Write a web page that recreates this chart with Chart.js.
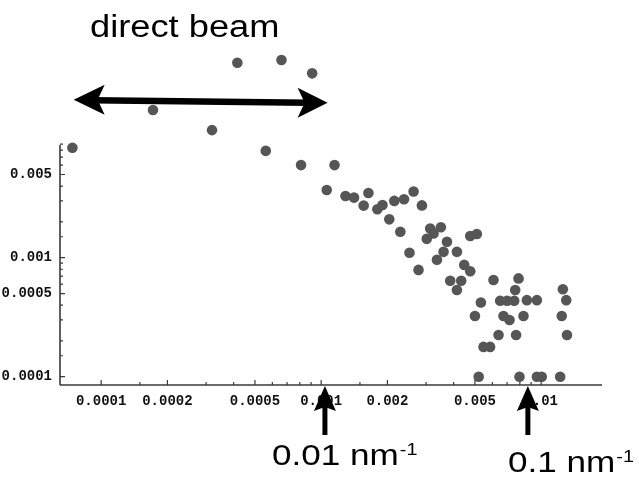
<!DOCTYPE html>
<html>
<head>
<meta charset="utf-8">
<script src="https://cdn.jsdelivr.net/npm/chart.js@4.4.0/dist/chart.umd.min.js"></script>
<style>
  body { margin: 0; background: #fff; }
  #caixa { width: 639px; height: 477px; }
</style>
</head>
<body>
<div id="caixa"><canvas id="graficoEspalhamento" width="639" height="477"></canvas></div>
<script>
// q (vetor de espalhamento) e intensidade de cada ponto medido
const qX = [
  0.000074, 0.000172, 0.000319, 0.000416, 0.00056, 0.00066, 0.00091, 0.00081, 0.00115,
  0.00106, 0.00129, 0.00141, 0.00164, 0.00156, 0.0018, 0.0019, 0.00215, 0.00238, 0.00263,
  0.00287, 0.00204, 0.00229, 0.00313, 0.0035, 0.00302, 0.00324, 0.00252, 0.00373, 0.0036,
  0.00414, 0.00336, 0.00476, 0.0051, 0.00277, 0.00447, 0.00476, 0.00386, 0.00433, 0.00414,
  0.00607, 0.00789, 0.00762, 0.01255, 0.013, 0.00532, 0.00651, 0.007, 0.00754, 0.00861,
  0.00956, 0.005, 0.00674, 0.00718, 0.00831, 0.0124, 0.0064, 0.00769, 0.0131, 0.00547,
  0.00586, 0.0052, 0.00797, 0.00956, 0.01006, 0.0122
];
const intensidade = [
  0.0084, 0.0174, 0.0118, 0.0435, 0.0079, 0.0458, 0.0354, 0.006, 0.006,
  0.0037, 0.0033, 0.0032, 0.0035, 0.00274, 0.00255, 0.00277, 0.003, 0.0031, 0.0036,
  0.00275, 0.0021, 0.00165, 0.00176, 0.0018, 0.00144, 0.0016, 0.0011, 0.00136, 0.00112,
  0.00112, 0.00096, 0.00152, 0.00158, 0.00079, 0.00087, 0.00077, 0.00064, 0.00064, 0.000535,
  0.00065, 0.00067, 0.000535, 0.000543, 0.00044, 0.00042, 0.000435, 0.000435, 0.000435, 0.00044,
  0.00044, 0.000324, 0.000324, 0.0003, 0.000324, 0.000324, 0.000224, 0.000224, 0.000224, 0.000178,
  0.000178, 0.0001, 0.0001, 0.0001, 0.0001, 0.0001
];
const rotulosX = [0.0001, 0.0002, 0.0005, 0.001, 0.002, 0.005, 0.01];
const rotulosY = [0.0001, 0.0005, 0.001, 0.005];
const limitesX = [0.000065, 0.0189];
const limitesY = [0.0000852, 0.0556];
const topoEixoY = 0.00885;
const setasQ = [0.00104, 0.0087];
const faixaFeixe = [0.000075, 0.00107, 0.0206];

const corPonto = '#565656';
const corEixo = '#3a3a3a';
const esticar = 1.17;

const pontos = qX.map((q, i) => ({ x: q, y: intensidade[i] }));

function ehRotulo(lista, v) {
  return lista.find(t => Math.abs(t - v) / t < 1e-6);
}

function escreve(ctx, txt, x, y, tam) {
  ctx.save();
  ctx.translate(x, y);
  ctx.scale(esticar, 1);
  ctx.font = tam + 'px "Liberation Sans", Arial, sans-serif';
  ctx.fillStyle = '#000';
  ctx.textBaseline = 'alphabetic';
  ctx.fillText(txt, 0, 0);
  const w = ctx.measureText(txt).width * esticar;
  ctx.restore();
  return w;
}

function ponta(ctx, xt, yt, dx, dy, comp, meia, recuo) {
  // dx,dy: direção da ponta para trás
  const px = -dy, py = dx;
  ctx.beginPath();
  ctx.moveTo(xt, yt);
  ctx.lineTo(xt + dx * comp + px * meia, yt + dy * comp + py * meia);
  ctx.lineTo(xt + dx * (comp - recuo), yt + dy * (comp - recuo));
  ctx.lineTo(xt + dx * comp - px * meia, yt + dy * comp - py * meia);
  ctx.closePath();
  ctx.fill();
}

const eixosEAnotacoes = {
  id: 'eixosEAnotacoes',
  afterDraw(chart) {
    const ctx = chart.ctx;
    const sx = chart.scales.x, sy = chart.scales.y;
    const x0 = sx.left, y0 = sy.bottom;

    // eixos
    ctx.save();
    ctx.strokeStyle = corEixo;
    ctx.lineWidth = 1.6;
    ctx.beginPath();
    ctx.moveTo(x0, y0);
    ctx.lineTo(sx.right, y0);
    ctx.moveTo(x0, y0);
    ctx.lineTo(x0, sy.getPixelForValue(topoEixoY));
    ctx.stroke();

    ctx.lineWidth = 1.2;
    ctx.beginPath();
    sx.ticks.forEach(t => {
      const p = sx.getPixelForValue(t.value);
      const l = ehRotulo(rotulosX, t.value) ? 5 : 3;
      ctx.moveTo(p, y0);
      ctx.lineTo(p, y0 - l);
    });
    sy.ticks.forEach(t => {
      const p = sy.getPixelForValue(t.value);
      const l = ehRotulo(rotulosY, t.value) ? 5 : 3;
      ctx.moveTo(x0, p);
      ctx.lineTo(x0 + l, p);
    });
    ctx.stroke();
    ctx.restore();

    // feixe direto: seta dupla
    ctx.save();
    ctx.fillStyle = '#000';
    ctx.strokeStyle = '#000';
    const xa = sx.getPixelForValue(faixaFeixe[0]);
    const xb = sx.getPixelForValue(faixaFeixe[1]);
    const yf = sy.getPixelForValue(faixaFeixe[2]);
    ctx.lineWidth = 6.5;
    ctx.beginPath();
    ctx.moveTo(xa + 20, yf - 1);
    ctx.lineTo(xb - 20, yf + 1.5);
    ctx.stroke();
    ponta(ctx, xa, yf - 1.5, 1, 0, 31, 15, 7);
    ponta(ctx, xb, yf + 1.5, -1, 0, 30, 15, 7);

    // setas para cima
    setasQ.forEach(q => {
      const xs = sx.getPixelForValue(q);
      ctx.lineWidth = 5;
      ctx.beginPath();
      ctx.moveTo(xs, y0 + 18);
      ctx.lineTo(xs, y0 + 50);
      ctx.stroke();
      ponta(ctx, xs, y0 + 1, 0, 1, 25, 11, 4);
    });
    ctx.restore();

    escreve(ctx, 'direct beam', 90, 37, 31);
    let w = escreve(ctx, '0.01 nm', 272, 465, 30);
    escreve(ctx, '-1', 272 + w + 1, 455, 17);
    w = escreve(ctx, '0.1 nm', 508, 472, 30);
    escreve(ctx, '-1', 508 + w + 1, 462, 17);
  }
};

const fonteTicks = { family: '"Liberation Mono", "Courier New", monospace', size: 14, weight: 'bold' };

new Chart(document.getElementById('graficoEspalhamento'), {
  type: 'scatter',
  data: {
    datasets: [{
      data: pontos,
      backgroundColor: corPonto,
      borderWidth: 0,
      pointRadius: 5.3,
      pointHoverRadius: 5.3,
      clip: false
    }]
  },
  options: {
    responsive: false,
    animation: false,
    layout: { padding: { left: 0, right: 37, top: 50, bottom: 62 } },
    plugins: { legend: { display: false }, tooltip: { enabled: false } },
    scales: {
      x: {
        type: 'logarithmic',
        position: 'bottom',
        min: limitesX[0],
        max: limitesX[1],
        grid: { display: false, drawTicks: false },
        border: { display: false },
        afterBuildTicks: s => { s.ticks = s.ticks.filter(t => t.value >= 0.0000999 && t.value <= 0.01001); },
        afterFit: s => { s.height = 30; },
        ticks: {
          font: fonteTicks,
          color: '#111',
          padding: 8,
          maxRotation: 0,
          autoSkip: false,
          callback: v => { const r = ehRotulo(rotulosX, v); return r ? String(r) : ''; }
        }
      },
      y: {
        type: 'logarithmic',
        min: limitesY[0],
        max: limitesY[1],
        grid: { display: false, drawTicks: false },
        border: { display: false },
        afterBuildTicks: s => { s.ticks = s.ticks.filter(t => t.value >= 0.0000999 && t.value <= 0.0095); },
        afterFit: s => { s.width = 60; },
        ticks: {
          font: fonteTicks,
          color: '#111',
          padding: 8,
          autoSkip: false,
          callback: v => { const r = ehRotulo(rotulosY, v); return r ? String(r) : ''; }
        }
      }
    }
  },
  plugins: [eixosEAnotacoes]
});
</script>
</body>
</html>
